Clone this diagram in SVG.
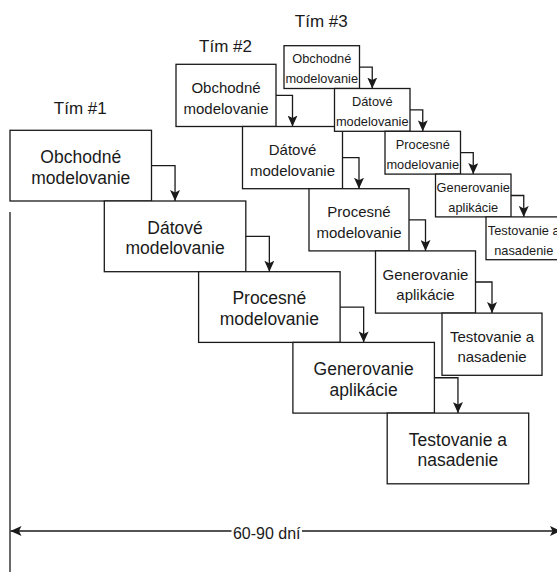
<svg xmlns="http://www.w3.org/2000/svg" width="557" height="572" viewBox="0 0 557 572">
  <style>
    .box { fill: #ffffff; stroke: #1a1a1a; stroke-width: 1.3; }
    .lbl { font-family: "Liberation Sans", Arial, sans-serif; fill: #1a1a1a; text-anchor: middle; }
    .t1 { font-size: 17.5px; }
    .t2 { font-size: 15px; }
    .t3 { font-size: 12.8px; }
    .ttl { font-size: 17px; }
    .dim { font-size: 16px; }
    .edge { fill: none; stroke: #1a1a1a; stroke-width: 1.3; marker-end: url(#arrow); }
    .axis { fill: none; stroke: #1a1a1a; stroke-width: 1.3; }
  </style>
  <defs>
    <marker id="arrow" viewBox="0 0 11 10" refX="11" refY="5" markerWidth="11" markerHeight="10" markerUnits="userSpaceOnUse" orient="auto-start-reverse">
      <path d="M0,0 L11,5 L0,10 L2.5,5 Z" fill="#1a1a1a"/>
    </marker>
  </defs>

  <rect x="0" y="0" width="557" height="572" fill="#ffffff"/>

  <!-- team titles -->
  <g id="titles">
    <text class="lbl ttl" x="80.25" y="114">Tím #1</text>
    <text class="lbl ttl" x="225.5" y="51.5">Tím #2</text>
    <text class="lbl ttl" x="321.25" y="27.2">Tím #3</text>
  </g>

  <!-- team 1 -->
  <g id="t1-obchodne">
    <rect class="box" x="10" y="130.3" width="141.5" height="70.7"/>
    <text class="lbl t1" x="80.75" y="162.8">Obchodné</text>
    <text class="lbl t1" x="80.75" y="183.6">modelovanie</text>
  </g>
  <g id="t1-datove">
    <rect class="box" x="104.3" y="201" width="141.5" height="70.7"/>
    <text class="lbl t1" x="175.05" y="233.5">Dátové</text>
    <text class="lbl t1" x="175.05" y="254.3">modelovanie</text>
  </g>
  <g id="t1-procesne">
    <rect class="box" x="198.6" y="271.7" width="141.5" height="70.7"/>
    <text class="lbl t1" x="269.35" y="304.2">Procesné</text>
    <text class="lbl t1" x="269.35" y="325">modelovanie</text>
  </g>
  <g id="t1-generovanie">
    <rect class="box" x="292.9" y="342.4" width="141.5" height="70.7"/>
    <text class="lbl t1" x="363.65" y="374.9">Generovanie</text>
    <text class="lbl t1" x="363.65" y="395.7">aplikácie</text>
  </g>
  <g id="t1-testovanie">
    <rect class="box" x="387.2" y="413.1" width="141.5" height="70.7"/>
    <text class="lbl t1" x="457.95" y="445.6">Testovanie a</text>
    <text class="lbl t1" x="457.95" y="466.4">nasadenie</text>
  </g>

  <!-- team 2 -->
  <g id="t2-obchodne">
    <rect class="box" x="176" y="64.3" width="100" height="62.2"/>
    <text class="lbl t2" x="226" y="93">Obchodné</text>
    <text class="lbl t2" x="226" y="113.5">modelovanie</text>
  </g>
  <g id="t2-datove">
    <rect class="box" x="242.5" y="126.5" width="100" height="62.2"/>
    <text class="lbl t2" x="292.5" y="155.2">Dátové</text>
    <text class="lbl t2" x="292.5" y="175.7">modelovanie</text>
  </g>
  <g id="t2-procesne">
    <rect class="box" x="309" y="188.7" width="100" height="62.2"/>
    <text class="lbl t2" x="359" y="217.4">Procesné</text>
    <text class="lbl t2" x="359" y="237.9">modelovanie</text>
  </g>
  <g id="t2-generovanie">
    <rect class="box" x="375.5" y="250.9" width="100" height="62.2"/>
    <text class="lbl t2" x="425.5" y="279.6">Generovanie</text>
    <text class="lbl t2" x="425.5" y="300.1">aplikácie</text>
  </g>
  <g id="t2-testovanie">
    <rect class="box" x="442" y="313.1" width="100" height="62.2"/>
    <text class="lbl t2" x="492" y="341.8">Testovanie a</text>
    <text class="lbl t2" x="492" y="362.3">nasadenie</text>
  </g>

  <!-- team 3 -->
  <g id="t3-obchodne">
    <rect class="box" x="284" y="45.7" width="75.5" height="42.8"/>
    <text class="lbl t3" x="321.75" y="63.3">Obchodné</text>
    <text class="lbl t3" x="321.75" y="83.3">modelovanie</text>
  </g>
  <g id="t3-datove">
    <rect class="box" x="334.5" y="88.5" width="75.5" height="42.8"/>
    <text class="lbl t3" x="372.25" y="106.1">Dátové</text>
    <text class="lbl t3" x="372.25" y="126.1">modelovanie</text>
  </g>
  <g id="t3-procesne">
    <rect class="box" x="385" y="131.3" width="75.5" height="42.8"/>
    <text class="lbl t3" x="422.75" y="148.9">Procesné</text>
    <text class="lbl t3" x="422.75" y="168.9">modelovanie</text>
  </g>
  <g id="t3-generovanie">
    <rect class="box" x="435.5" y="174.1" width="75.5" height="42.8"/>
    <text class="lbl t3" x="473.25" y="191.7">Generovanie</text>
    <text class="lbl t3" x="473.25" y="211.7">aplikácie</text>
  </g>
  <g id="t3-testovanie">
    <rect class="box" x="486" y="216.9" width="75.5" height="42.8"/>
    <text class="lbl t3" x="523.75" y="234.5">Testovanie a</text>
    <text class="lbl t3" x="523.75" y="254.5">nasadenie</text>
  </g>

  <!-- connectors between consecutive phases -->
  <g id="connectors">
    <path class="edge" d="M151.5,165.65 H175.05 V201"/>
    <path class="edge" d="M245.8,236.35 H269.35 V271.7"/>
    <path class="edge" d="M340.1,307.05 H363.65 V342.4"/>
    <path class="edge" d="M434.4,377.75 H457.95 V413.1"/>

    <path class="edge" d="M276,95.4 H292.5 V126.5"/>
    <path class="edge" d="M342.5,157.6 H359 V188.7"/>
    <path class="edge" d="M409,219.8 H425.5 V250.9"/>
    <path class="edge" d="M475.5,282 H492 V313.1"/>

    <path class="edge" d="M359.5,67.1 H372.25 V88.5"/>
    <path class="edge" d="M410,109.9 H422.75 V131.3"/>
    <path class="edge" d="M460.5,152.7 H473.25 V174.1"/>
    <path class="edge" d="M511,195.5 H523.75 V216.9"/>
  </g>

  <!-- time axis -->
  <g id="timeline">
    <line class="axis" x1="10" y1="212" x2="10" y2="572"/>
    <line class="axis" x1="10.5" y1="531" x2="561" y2="531" marker-start="url(#arrow)" marker-end="url(#arrow)"/>
    <rect x="231.5" y="522" width="70.5" height="19" fill="#ffffff"/>
    <text class="lbl dim" x="266.7" y="538.5">60-90 dní</text>
  </g>
</svg>
